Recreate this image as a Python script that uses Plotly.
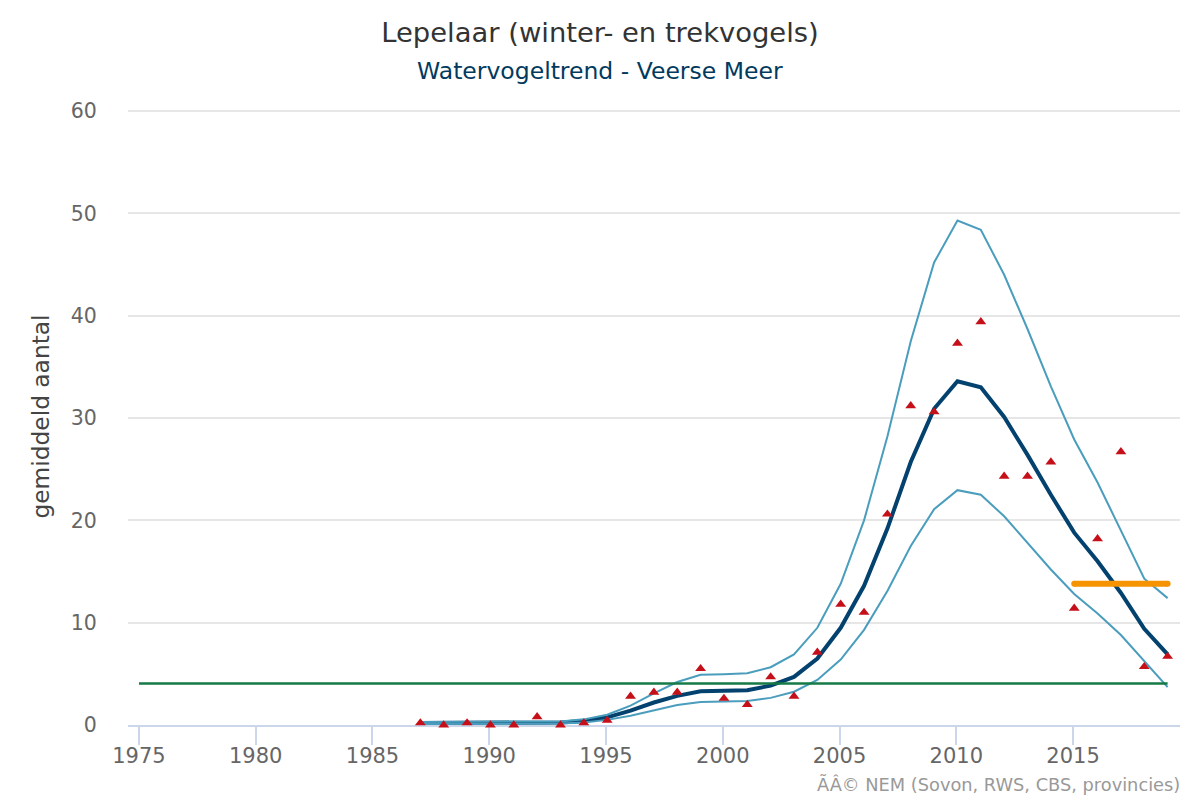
import plotly.graph_objs as go

years = list(range(1987, 2020))
tick_years = [1975, 1980, 1985, 1990, 1995, 2000, 2005, 2010, 2015]
y_ticks = [0, 10, 20, 30, 40, 50, 60]

# trend line with upper and lower limit
trend = [0.2, 0.2, 0.2, 0.2, 0.2, 0.2, 0.25, 0.4, 0.75, 1.4, 2.2, 2.85, 3.3, 3.35, 3.4, 3.85, 4.7,
         6.5, 9.5, 13.6, 19.2, 25.7, 30.9, 33.6, 33.0, 30.1, 26.4, 22.5, 18.8, 16.0, 12.9, 9.4, 6.9]
upper = [0.3, 0.3, 0.3, 0.3, 0.3, 0.3, 0.35, 0.55, 1.0, 1.9, 3.1, 4.2, 4.9, 4.95, 5.05, 5.65, 6.9,
         9.5, 13.8, 20.0, 28.2, 37.5, 45.2, 49.3, 48.4, 44.0, 38.7, 33.1, 27.9, 23.7, 19.0, 14.3, 12.4]
lower = [0.1, 0.1, 0.1, 0.1, 0.1, 0.1, 0.15, 0.25, 0.5, 0.9, 1.45, 1.95, 2.25, 2.3, 2.35, 2.65, 3.25,
         4.4, 6.4, 9.3, 13.1, 17.5, 21.1, 22.95, 22.5, 20.4, 17.8, 15.2, 12.8, 10.9, 8.8, 6.2, 3.7]

# yearly counts (triangles)
counts = [0.2, 0.0, 0.2, 0.0, 0.0, 0.8, 0.0, 0.2, 0.45, 2.8, 3.2, 3.2, 5.5, 2.6, 2.0, 4.7, 2.8,
          7.1, 11.8, 11.0, 20.6, 31.2, 30.6, 37.3, 39.4, 24.3, 24.3, 25.7, 11.4, 18.2, 26.7, 5.7, 6.7]

green_years = [1974.95, 2019]
green_level = [4.05, 4.05]
orange_years = [2015, 2019]
orange_level = [13.8, 13.8]

FONT = "DejaVu Sans"
TICK_OFFSET = 0.05  # ticks sit slightly before the data points of the same year

fig = go.Figure()
fig.add_trace(go.Scatter(x=years, y=trend, mode='lines', line=dict(color='#03426e', width=4)))
fig.add_trace(go.Scatter(x=years, y=upper, mode='lines', line=dict(color='#4a9dbd', width=2)))
fig.add_trace(go.Scatter(x=years, y=lower, mode='lines', line=dict(color='#4a9dbd', width=2)))
fig.add_trace(go.Scatter(x=green_years, y=green_level, mode='lines',
                         line=dict(color='#157a45', width=2.5)))
# markers at the ends give the bar its round caps
fig.add_trace(go.Scatter(x=orange_years, y=orange_level, mode='lines+markers',
                         line=dict(color='#f59300', width=6),
                         marker=dict(symbol='circle', size=6, color='#f59300')))
fig.add_trace(go.Scatter(x=years, y=counts, mode='markers', cliponaxis=False,
                         marker=dict(symbol='triangle-up', size=9.5, color='#c5101a')))

# the page has an 8px body margin, so the figure is 8px smaller and the margins shift
fig.update_layout(
    width=1192, height=792,
    margin=dict(l=120, r=20, t=100, b=75),
    paper_bgcolor='white', plot_bgcolor='white',
    showlegend=False,
    font=dict(family=FONT),
    title=dict(text='Lepelaar (winter- en trekvogels)', x=592 / 1192, xanchor='center',
               y=1 - 24 / 792, yanchor='middle', font=dict(size=27.4, color='#333333')),
)
fig.add_annotation(text='Watervogeltrend - Veerse Meer', xref='paper', yref='paper',
                   x=472 / 1052, y=1 + 37 / 617, showarrow=False, yanchor='middle',
                   font=dict(size=23.5, color='#023a5e', family=FONT))
fig.add_annotation(text='ÃÂ© NEM (Sovon, RWS, CBS, provincies)', xref='paper', yref='paper',
                   x=1, y=-59 / 617, xanchor='right', yanchor='middle', showarrow=False,
                   xshift=2, font=dict(size=17.8, color='#999999', family=FONT))

fig.update_xaxes(range=[1974.48, 2019.53], tickvals=[y - TICK_OFFSET for y in tick_years],
                 ticktext=[str(y) for y in tick_years], showgrid=False, zeroline=False,
                 showline=True, linecolor='#ccd6eb', linewidth=2, layer='below traces',
                 ticks='outside', ticklen=18, tickwidth=2, tickcolor='#ccd6eb',
                 ticklabelstandoff=-7,
                 tickfont=dict(size=21, color='#666666'))
# top of the range a little over 60, otherwise the 60 gridline is dropped at the edge
fig.update_yaxes(range=[0, 60.3], tickvals=y_ticks, showgrid=True,
                 gridcolor='#e6e6e6', gridwidth=2, zeroline=False, showline=False,
                 ticks='outside', ticklen=26, tickcolor='rgba(0,0,0,0)',
                 tickfont=dict(size=20.5, color='#666666'),
                 title=dict(text='gemiddeld aantal', standoff=14,
                            font=dict(size=23.3, color='#444444')))

fig.write_html("out.html")
